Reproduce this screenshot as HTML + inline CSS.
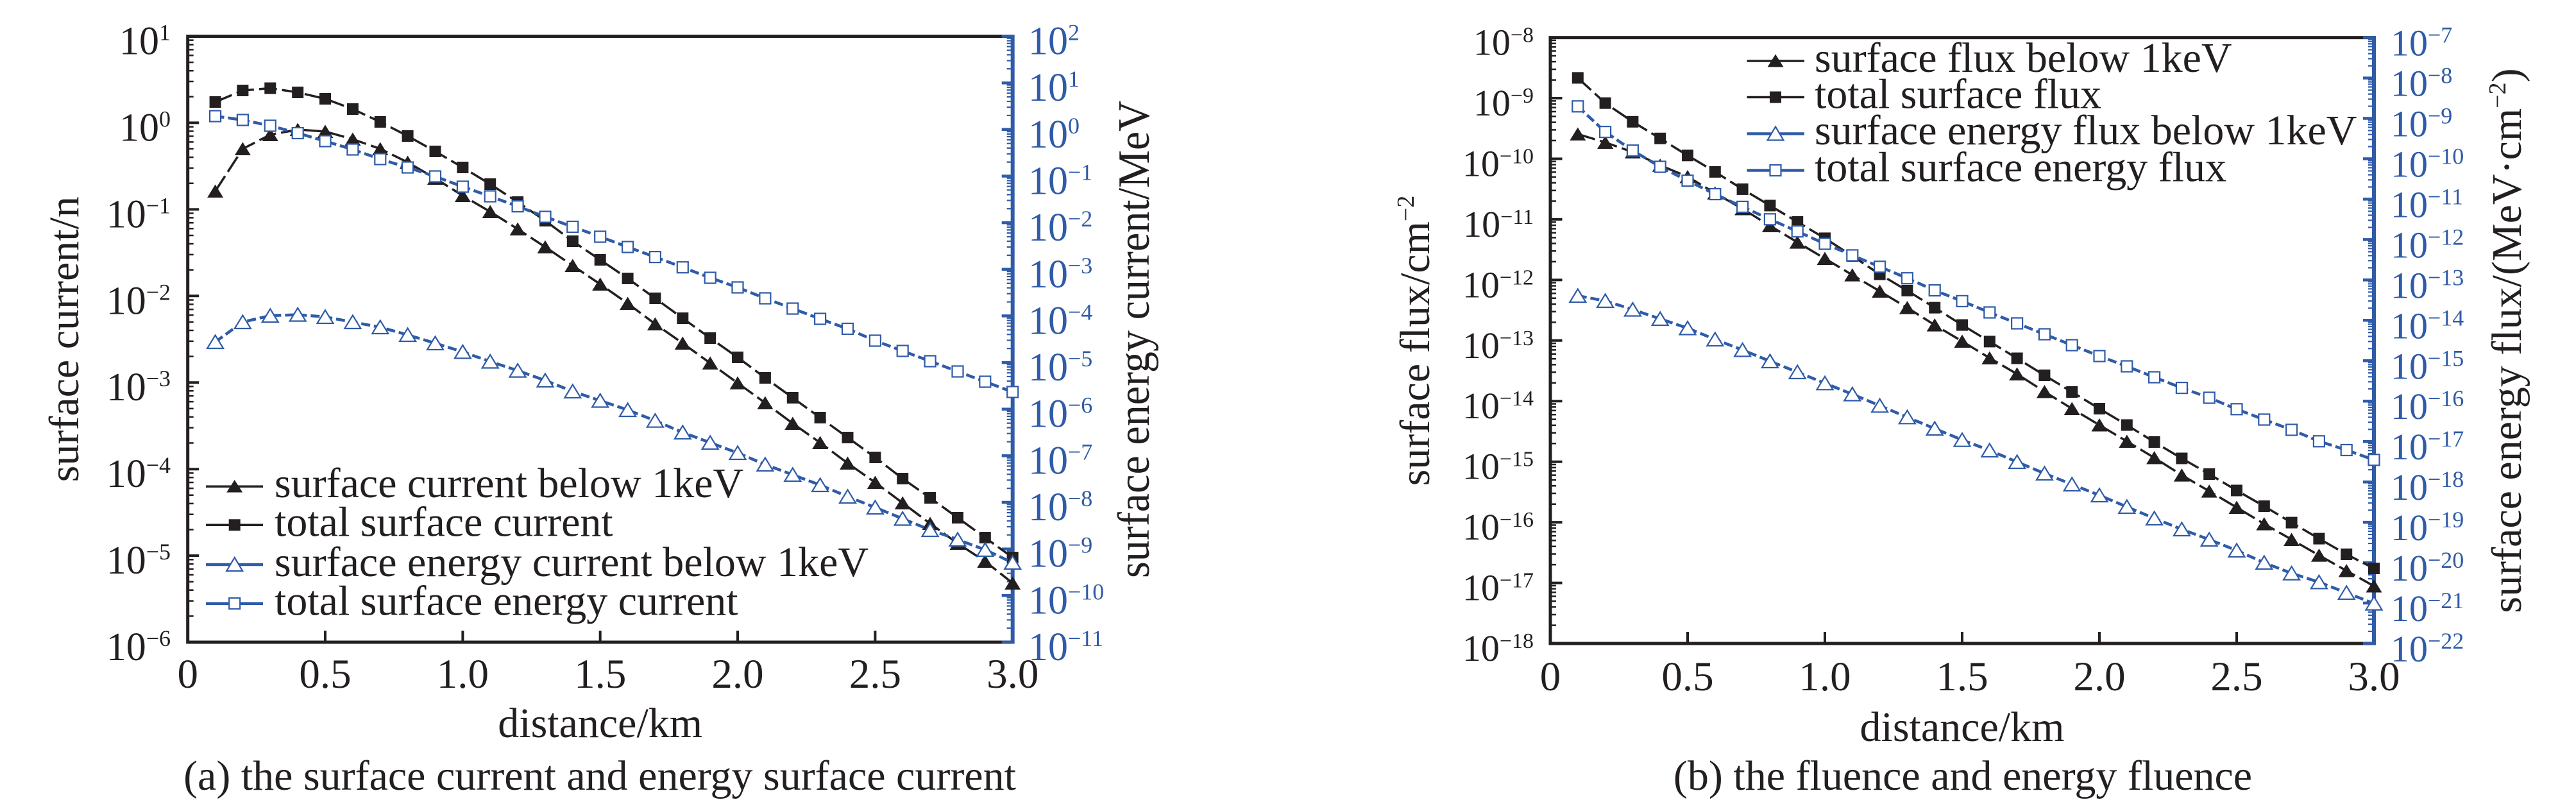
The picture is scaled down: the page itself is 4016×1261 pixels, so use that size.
<!DOCTYPE html>
<html><head><meta charset="utf-8">
<style>html,body{margin:0;padding:0;background:#fff;}svg{display:block;}</style>
</head><body>
<svg xmlns="http://www.w3.org/2000/svg" width="4016" height="1261" viewBox="0 0 4016 1261" font-family="'Liberation Serif', serif" fill="#231f20">
<rect width="4016" height="1261" fill="#fff"/>
<defs>
<path id="mn" vector-effect="non-scaling-stroke" d="M0 .04576H1M0 .09691H1M0 .1549H1M0 .22185H1M0 .30103H1M0 .39794H1M0 .52288H1M0 .69897H1"/>
<marker id="ms" markerUnits="userSpaceOnUse" markerWidth="20" markerHeight="20" viewBox="0 0 20 20" refX="10" refY="10" overflow="visible"><rect x="1" y="1" width="18" height="18" fill="#231f20" stroke="none"/></marker>
<marker id="mt" markerUnits="userSpaceOnUse" markerWidth="24" markerHeight="22" viewBox="0 0 24 22" refX="12" refY="11" overflow="visible"><path d="M12 0.5L24.5 21H-0.5Z" fill="#231f20" stroke="none"/></marker>
<marker id="mbs" markerUnits="userSpaceOnUse" markerWidth="20" markerHeight="20" viewBox="0 0 20 20" refX="10" refY="10" overflow="visible"><rect x="1.5" y="1.5" width="17" height="17" fill="#fff" stroke="#2f5ba8" stroke-width="2.2" stroke-dasharray="none"/></marker>
<marker id="mbt" markerUnits="userSpaceOnUse" markerWidth="24" markerHeight="22" viewBox="0 0 24 22" refX="12" refY="11" overflow="visible"><path d="M12 0.5L24.5 21H-0.5Z" fill="#fff" stroke="#2f5ba8" stroke-width="2.2" stroke-linejoin="miter" stroke-dasharray="none"/></marker>
</defs>

<!-- ================= PLOT 1 ================= -->
<g transform="translate(292.7 56.5) scale(9 134.93)" stroke="#231f20" stroke-width="2.5" fill="none">
<use href="#mn" y="0"/><use href="#mn" y="1"/><use href="#mn" y="2"/><use href="#mn" y="3"/><use href="#mn" y="4"/><use href="#mn" y="5"/><use href="#mn" y="6"/>
</g>
<path d="M292.7 56.5h17.5M292.7 191.4h17.5M292.7 326.4h17.5M292.7 461.3h17.5M292.7 596.2h17.5M292.7 731.2h17.5M292.7 866.1h17.5M292.7 1001h17.5" stroke="#231f20" stroke-width="4" fill="none"/>
<path d="M292.7 1001v-18M507 1001v-18M721.4 1001v-18M935.7 1001v-18M1150 1001v-18M1364.4 1001v-18" stroke="#231f20" stroke-width="4" fill="none"/>
<path d="M1578.7 56.5H292.7V1001H1578.7" stroke="#231f20" stroke-width="5" fill="none"/>
<g transform="translate(1578.7 56.5) scale(-9 72.654)" stroke="#2f5ba8" stroke-width="2.2" fill="none">
<use href="#mn" y="0"/><use href="#mn" y="1"/><use href="#mn" y="2"/><use href="#mn" y="3"/><use href="#mn" y="4"/><use href="#mn" y="5"/><use href="#mn" y="6"/><use href="#mn" y="7"/><use href="#mn" y="8"/><use href="#mn" y="9"/><use href="#mn" y="10"/><use href="#mn" y="11"/><use href="#mn" y="12"/>
</g>
<path d="M1578.7 56.5h-17M1578.7 129.2h-17M1578.7 201.8h-17M1578.7 274.5h-17M1578.7 347.1h-17M1578.7 419.8h-17M1578.7 492.4h-17M1578.7 565.1h-17M1578.7 637.7h-17M1578.7 710.4h-17M1578.7 783h-17M1578.7 855.7h-17M1578.7 928.3h-17M1578.7 1001h-17" stroke="#2f5ba8" stroke-width="4.5" fill="none"/>
<path d="M1578.7 54V1003.5" stroke="#2f5ba8" stroke-width="6" fill="none"/>

<polyline fill="none" stroke="#231f20" stroke-width="3.5" stroke-dasharray="28 8" marker-start="url(#mt)" marker-mid="url(#mt)" marker-end="url(#mt)" points="335.6,298 378.4,232 421.3,210 464.2,202 507,205 549.9,217 592.8,232 635.6,253 678.5,278 721.4,305 764.2,330 807.1,357 850,385 892.8,414 935.7,443 978.6,473 1021.4,505 1064.3,535 1107.2,566 1150,597 1192.9,628 1235.8,660 1278.6,690 1321.5,722 1364.4,752 1407.2,784 1450.1,816 1493,847 1535.8,875 1578.7,909"/>
<polyline fill="none" stroke="#231f20" stroke-width="3.5" stroke-dasharray="28 8" marker-start="url(#ms)" marker-mid="url(#ms)" marker-end="url(#ms)" points="335.6,159 378.4,141 421.3,137.5 464.2,144 507,154 549.9,170 592.8,190 635.6,212 678.5,236 721.4,261 764.2,287 807.1,315 850,344 892.8,376 935.7,405 978.6,434 1021.4,465 1064.3,496 1107.2,527 1150,557 1192.9,589 1235.8,620 1278.6,651 1321.5,682 1364.4,713 1407.2,746 1450.1,776 1493,807 1535.8,838 1578.7,869"/>
<polyline fill="none" stroke="#2f5ba8" stroke-width="4.5" stroke-dasharray="14 6" marker-start="url(#mbt)" marker-mid="url(#mbt)" marker-end="url(#mbt)" points="335.6,533 378.4,502 421.3,492 464.2,490.5 507,494 549.9,502 592.8,510 635.6,522 678.5,535 721.4,548.5 764.2,563.5 807.1,577.6 850,593 892.8,610 935.7,624.5 978.6,639 1021.4,655.7 1064.3,674 1107.2,690 1150,706 1192.9,724 1235.8,740 1278.6,756 1321.5,774 1364.4,791 1407.2,808.5 1450.1,826 1493,841 1535.8,857 1578.7,877"/>
<polyline fill="none" stroke="#2f5ba8" stroke-width="4.5" stroke-dasharray="14 6" marker-start="url(#mbs)" marker-mid="url(#mbs)" marker-end="url(#mbs)" points="335.6,181 378.4,187 421.3,196 464.2,207.5 507,220 549.9,233 592.8,248 635.6,261 678.5,275 721.4,291 764.2,306 807.1,321.6 850,338 892.8,353.5 935.7,369 978.6,385 1021.4,400.6 1064.3,416.7 1107.2,433 1150,448 1192.9,465 1235.8,481 1278.6,497 1321.5,512.5 1364.4,531 1407.2,547 1450.1,563 1493,579 1535.8,595 1578.7,611"/>

<path d="M321 758.3H410M321 818.3H410" stroke="#231f20" stroke-width="3.5"/>
<path d="M321 880H410M321 940.7H410" stroke="#2f5ba8" stroke-width="4.5"/>
<path d="M365.7 748L378.2 767.5H353.2Z" fill="#231f20"/>
<rect x="356.7" y="809.3" width="18" height="18" fill="#231f20"/>
<path d="M365.7 869L378.2 890H353.2Z" fill="#fff" stroke="#2f5ba8" stroke-width="2.2"/>
<rect x="357.2" y="932.2" width="17" height="17" fill="#fff" stroke="#2f5ba8" stroke-width="2.2"/>
<g font-size="66">
<text x="428" y="775">surface current below 1keV</text>
<text x="428" y="835.5">total surface current</text>
<text x="428" y="898">surface energy current below 1keV</text>
<text x="428" y="958.5">total surface energy current</text>
</g>

<g font-size="62" text-anchor="end">
<text x="266" y="84.5">10<tspan dy="-22" font-size="36">1</tspan></text>
<text x="266" y="219.4">10<tspan dy="-22" font-size="36">0</tspan></text>
<text x="266" y="354.4">10<tspan dy="-22" font-size="36">−1</tspan></text>
<text x="266" y="489.3">10<tspan dy="-22" font-size="36">−2</tspan></text>
<text x="266" y="624.2">10<tspan dy="-22" font-size="36">−3</tspan></text>
<text x="266" y="759.2">10<tspan dy="-22" font-size="36">−4</tspan></text>
<text x="266" y="894.1">10<tspan dy="-22" font-size="36">−5</tspan></text>
<text x="266" y="1029">10<tspan dy="-22" font-size="36">−6</tspan></text>
</g>
<g font-size="62" fill="#2f5ba8">
<text x="1603" y="84.5">10<tspan dy="-22" font-size="36">2</tspan></text>
<text x="1603" y="157.2">10<tspan dy="-22" font-size="36">1</tspan></text>
<text x="1603" y="229.8">10<tspan dy="-22" font-size="36">0</tspan></text>
<text x="1603" y="302.5">10<tspan dy="-22" font-size="36">−1</tspan></text>
<text x="1603" y="375.1">10<tspan dy="-22" font-size="36">−2</tspan></text>
<text x="1603" y="447.8">10<tspan dy="-22" font-size="36">−3</tspan></text>
<text x="1603" y="520.4">10<tspan dy="-22" font-size="36">−4</tspan></text>
<text x="1603" y="593.1">10<tspan dy="-22" font-size="36">−5</tspan></text>
<text x="1603" y="665.7">10<tspan dy="-22" font-size="36">−6</tspan></text>
<text x="1603" y="738.4">10<tspan dy="-22" font-size="36">−7</tspan></text>
<text x="1603" y="811">10<tspan dy="-22" font-size="36">−8</tspan></text>
<text x="1603" y="883.7">10<tspan dy="-22" font-size="36">−9</tspan></text>
<text x="1603" y="956.3">10<tspan dy="-22" font-size="36">−10</tspan></text>
<text x="1603" y="1029">10<tspan dy="-22" font-size="36">−11</tspan></text>
</g>
<g font-size="65" text-anchor="middle">
<text x="292.7" y="1072">0</text>
<text x="507" y="1072">0.5</text>
<text x="721.4" y="1072">1.0</text>
<text x="935.7" y="1072">1.5</text>
<text x="1150" y="1072">2.0</text>
<text x="1364.4" y="1072">2.5</text>
<text x="1578.7" y="1072">3.0</text>
</g>
<text x="935.7" y="1149" font-size="66" text-anchor="middle">distance/km</text>
<text x="935" y="1231" font-size="66" text-anchor="middle">(a) the surface current and energy surface current</text>
<text transform="translate(122 528.7) rotate(-90)" font-size="66" text-anchor="middle">surface current/n</text>
<text transform="translate(1791 529) rotate(-90)" font-size="70" text-anchor="middle" textLength="744" lengthAdjust="spacingAndGlyphs">surface energy current/MeV</text>

<!-- ================= PLOT 2 ================= -->
<g transform="translate(2417 58.6) scale(9 94.44)" stroke="#231f20" stroke-width="2.5" fill="none">
<use href="#mn" y="0"/><use href="#mn" y="1"/><use href="#mn" y="2"/><use href="#mn" y="3"/><use href="#mn" y="4"/><use href="#mn" y="5"/><use href="#mn" y="6"/><use href="#mn" y="7"/><use href="#mn" y="8"/><use href="#mn" y="9"/>
</g>
<path d="M2417 58.6h18.5M2417 153h18.5M2417 247.5h18.5M2417 341.9h18.5M2417 436.4h18.5M2417 530.8h18.5M2417 625.2h18.5M2417 719.7h18.5M2417 814.1h18.5M2417 908.6h18.5M2417 1003h18.5" stroke="#231f20" stroke-width="4" fill="none"/>
<path d="M2417 1003v-18M2631 1003v-18M2845 1003v-18M3059 1003v-18M3273 1003v-18M3487 1003v-18" stroke="#231f20" stroke-width="4" fill="none"/>
<path d="M3701 58.6H2417V1003H3701" stroke="#231f20" stroke-width="5" fill="none"/>
<g transform="translate(3701 58.6) scale(-9 62.96)" stroke="#2f5ba8" stroke-width="2.2" fill="none">
<use href="#mn" y="0"/><use href="#mn" y="1"/><use href="#mn" y="2"/><use href="#mn" y="3"/><use href="#mn" y="4"/><use href="#mn" y="5"/><use href="#mn" y="6"/><use href="#mn" y="7"/><use href="#mn" y="8"/><use href="#mn" y="9"/><use href="#mn" y="10"/><use href="#mn" y="11"/><use href="#mn" y="12"/><use href="#mn" y="13"/><use href="#mn" y="14"/>
</g>
<path d="M3701 58.6h-17M3701 121.6h-17M3701 184.5h-17M3701 247.5h-17M3701 310.4h-17M3701 373.4h-17M3701 436.4h-17M3701 499.3h-17M3701 562.3h-17M3701 625.2h-17M3701 688.2h-17M3701 751.2h-17M3701 814.1h-17M3701 877.1h-17M3701 940h-17M3701 1003h-17" stroke="#2f5ba8" stroke-width="4.5" fill="none"/>
<path d="M3701 56V1005.5" stroke="#2f5ba8" stroke-width="6" fill="none"/>

<polyline fill="none" stroke="#231f20" stroke-width="3.5" stroke-dasharray="28 8" marker-start="url(#mt)" marker-mid="url(#mt)" marker-end="url(#mt)" points="2459.8,209 2502.6,222 2545.4,237 2588.2,257.7 2631,275.5 2673.8,301 2716.6,325.5 2759.4,352 2802.2,377.6 2845,403 2887.8,428.6 2930.6,454 2973.4,479.6 3016.2,506.6 3059,532 3101.8,558 3144.6,583 3187.4,610.5 3230.2,637 3273,662.5 3315.8,688 3358.6,713.5 3401.4,740.6 3444.2,765.6 3487,791 3529.8,816.6 3572.6,841 3615.4,865.6 3658.2,889.6 3701,913.5"/>
<polyline fill="none" stroke="#231f20" stroke-width="3.5" stroke-dasharray="28 8" marker-start="url(#ms)" marker-mid="url(#ms)" marker-end="url(#ms)" points="2459.8,121.4 2502.6,160.7 2545.4,189.8 2588.2,215.8 2631,242.3 2673.8,267.9 2716.6,294.9 2759.4,320.4 2802.2,345.9 2845,371.4 2887.8,399 2930.6,427.6 2973.4,453 3016.2,479.6 3059,506.6 3101.8,532.4 3144.6,558.5 3187.4,585 3230.2,611 3273,637 3315.8,662.5 3358.6,689 3401.4,714.5 3444.2,739 3487,764.5 3529.8,789 3572.6,814.6 3615.4,839.6 3658.2,864 3701,886"/>
<polyline fill="none" stroke="#2f5ba8" stroke-width="4.5" stroke-dasharray="14 6" marker-start="url(#mbt)" marker-mid="url(#mbt)" marker-end="url(#mbt)" points="2459.8,461 2502.6,469 2545.4,482.5 2588.2,497 2631,511.5 2673.8,529 2716.6,545.5 2759.4,563 2802.2,580 2845,597.3 2887.8,614.5 2930.6,632.3 2973.4,650.3 3016.2,668 3059,685.7 3101.8,702 3144.6,720 3187.4,738 3230.2,755 3273,772 3315.8,790 3358.6,808 3401.4,825 3444.2,841 3487,858 3529.8,877 3572.6,893.6 3615.4,907.4 3658.2,924 3701,940.6"/>
<polyline fill="none" stroke="#2f5ba8" stroke-width="4.5" stroke-dasharray="14 6" marker-start="url(#mbs)" marker-mid="url(#mbs)" marker-end="url(#mbs)" points="2459.8,165.8 2502.6,205.6 2545.4,234.7 2588.2,260 2631,281.6 2673.8,302.6 2716.6,322.4 2759.4,341.8 2802.2,360.7 2845,380 2887.8,398 2930.6,415.8 2973.4,433.7 3016.2,452.6 3059,469.4 3101.8,487 3144.6,504 3187.4,521 3230.2,538 3273,555 3315.8,571 3358.6,588 3401.4,604.6 3444.2,620 3487,637.8 3529.8,654 3572.6,670 3615.4,687.8 3658.2,701.5 3701,716.8"/>

<path d="M2723.5 95H2813M2723.5 151.5H2813" stroke="#231f20" stroke-width="3.5"/>
<path d="M2723.5 208.5H2813M2723.5 265.5H2813" stroke="#2f5ba8" stroke-width="4.5"/>
<path d="M2768 84.5L2780.5 104.5H2755.5Z" fill="#231f20"/>
<rect x="2759" y="142.5" width="18" height="18" fill="#231f20"/>
<path d="M2768 197.5L2780.5 218.5H2755.5Z" fill="#fff" stroke="#2f5ba8" stroke-width="2.2"/>
<rect x="2759.5" y="257" width="17" height="17" fill="#fff" stroke="#2f5ba8" stroke-width="2.2"/>
<g font-size="66">
<text x="2829" y="112">surface flux below 1keV</text>
<text x="2829" y="168.5">total surface flux</text>
<text x="2829" y="225">surface energy flux below 1keV</text>
<text x="2829" y="282.5">total surface energy flux</text>
</g>

<g font-size="58" text-anchor="end">
<text x="2391" y="85.6">10<tspan dy="-20" font-size="34">−8</tspan></text>
<text x="2391" y="180">10<tspan dy="-20" font-size="34">−9</tspan></text>
<text x="2391" y="274.5">10<tspan dy="-20" font-size="34">−10</tspan></text>
<text x="2391" y="368.9">10<tspan dy="-20" font-size="34">−11</tspan></text>
<text x="2391" y="463.4">10<tspan dy="-20" font-size="34">−12</tspan></text>
<text x="2391" y="557.8">10<tspan dy="-20" font-size="34">−13</tspan></text>
<text x="2391" y="652.2">10<tspan dy="-20" font-size="34">−14</tspan></text>
<text x="2391" y="746.7">10<tspan dy="-20" font-size="34">−15</tspan></text>
<text x="2391" y="841.1">10<tspan dy="-20" font-size="34">−16</tspan></text>
<text x="2391" y="935.6">10<tspan dy="-20" font-size="34">−17</tspan></text>
<text x="2391" y="1030">10<tspan dy="-20" font-size="34">−18</tspan></text>
</g>
<g font-size="58" fill="#2f5ba8">
<text x="3727" y="86.6">10<tspan dy="-20" font-size="36">−7</tspan></text>
<text x="3727" y="149.6">10<tspan dy="-20" font-size="36">−8</tspan></text>
<text x="3727" y="212.5">10<tspan dy="-20" font-size="36">−9</tspan></text>
<text x="3727" y="275.5">10<tspan dy="-20" font-size="36">−10</tspan></text>
<text x="3727" y="338.4">10<tspan dy="-20" font-size="36">−11</tspan></text>
<text x="3727" y="401.4">10<tspan dy="-20" font-size="36">−12</tspan></text>
<text x="3727" y="464.4">10<tspan dy="-20" font-size="36">−13</tspan></text>
<text x="3727" y="527.3">10<tspan dy="-20" font-size="36">−14</tspan></text>
<text x="3727" y="590.3">10<tspan dy="-20" font-size="36">−15</tspan></text>
<text x="3727" y="653.2">10<tspan dy="-20" font-size="36">−16</tspan></text>
<text x="3727" y="716.2">10<tspan dy="-20" font-size="36">−17</tspan></text>
<text x="3727" y="779.2">10<tspan dy="-20" font-size="36">−18</tspan></text>
<text x="3727" y="842.1">10<tspan dy="-20" font-size="36">−19</tspan></text>
<text x="3727" y="905.1">10<tspan dy="-20" font-size="36">−20</tspan></text>
<text x="3727" y="968">10<tspan dy="-20" font-size="36">−21</tspan></text>
<text x="3727" y="1031">10<tspan dy="-20" font-size="36">−22</tspan></text>
</g>
<g font-size="65" text-anchor="middle">
<text x="2417" y="1076">0</text>
<text x="2631" y="1076">0.5</text>
<text x="2845" y="1076">1.0</text>
<text x="3059" y="1076">1.5</text>
<text x="3273" y="1076">2.0</text>
<text x="3487" y="1076">2.5</text>
<text x="3701" y="1076">3.0</text>
</g>
<text x="3059" y="1155" font-size="66" text-anchor="middle">distance/km</text>
<text x="3060" y="1231" font-size="66" text-anchor="middle">(b) the fluence and energy fluence</text>
<text transform="translate(2228 531) rotate(-90)" font-size="66" text-anchor="middle">surface flux/cm<tspan dy="-24" font-size="38">−2</tspan></text>
<text transform="translate(3930 531) rotate(-90)" font-size="66" text-anchor="middle">surface energy flux/(MeV·cm<tspan dy="-24" font-size="38">−2</tspan><tspan dy="24">)</tspan></text>
</svg>
</body></html>
